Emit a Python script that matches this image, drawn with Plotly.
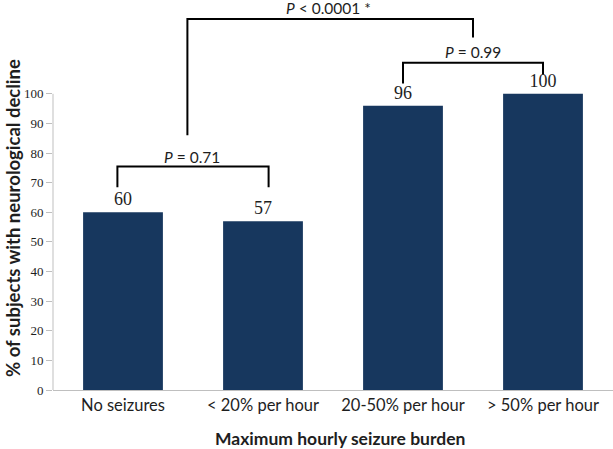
import plotly.graph_objects as go

categories = ["No seizures", "< 20% per hour", "20-50% per hour", "> 50% per hour"]
values = [60, 57, 96, 100]
labels = ["60", "57", "96", "100"]

# comparison brackets: (x left, x right, y top, y left end, y right end, text, text x, text y)
brackets = [
    (-0.04, 1.04, 75.5, 68.5, 68.5, "<i>P</i> = 0.71", 0.49, 78.8),
    (2.0, 3.0, 110.5, 103.5, 106.5, "<i>P</i> = 0.99", 2.5, 114.2),
    (0.46, 2.5, 125.3, 86.0, 119.0, "<i>P</i> < 0.0001 *", 1.47, 129.0),
]

sans = "Lato, 'Open Sans', sans-serif"
serif = "'Liberation Serif', 'DejaVu Serif', serif"
ink = "#1E1E1E"

fig = go.Figure(go.Bar(
    x=list(range(len(categories))),
    y=values,
    text=labels,
    textposition="outside",
    textfont=dict(family=serif, size=18, color=ink),
    marker=dict(color="#17375E", line=dict(width=0)),
    cliponaxis=False,
))

shapes = []
# y axis line only up to 100
shapes.append(dict(type="line", xref="paper", yref="y", x0=0, x1=0, y0=0, y1=100,
                   line=dict(color="#BFBFBF", width=1)))
for xl, xr, yt, yl, yr, txt, tx, ty in brackets:
    shapes.append(dict(type="path", xref="x", yref="y",
                       path=f"M {xl},{yl} L {xl},{yt} L {xr},{yt} L {xr},{yr}",
                       line=dict(color="black", width=2)))
    fig.add_annotation(x=tx, y=ty, xref="x", yref="y", text=txt, showarrow=False,
                       font=dict(family=sans, size=15.5, color=ink), yanchor="middle")

# axis titles as annotations so they sit where the reference has them
fig.add_annotation(x=-40 / 560, y=(449 - 218 - 59) / 385, xref="paper", yref="paper",
                   xanchor="center", yanchor="middle",
                   text="<b>% of subjects with neurological decline</b>", textangle=-90,
                   showarrow=False, font=dict(family=sans, size=18.5, color=ink))
fig.add_annotation(x=(340 - 53) / 560, y=-(438 - 390) / 385, xref="paper", yref="paper",
                   xanchor="center", yanchor="middle",
                   text="<b>Maximum hourly seizure burden</b>",
                   showarrow=False, font=dict(family=sans, size=17.5, color=ink))

fig.update_layout(
    width=613, height=449,
    margin=dict(l=53, r=0, t=5, b=59),
    paper_bgcolor="white", plot_bgcolor="white",
    showlegend=False,
    bargap=0.43,
    shapes=shapes,
    xaxis=dict(
        tickmode="array", tickvals=list(range(len(categories))), ticktext=categories,
        range=[-0.5, 3.5], showline=True, linecolor="#BFBFBF", linewidth=1,
        ticks="", showgrid=False, zeroline=False, automargin=False,
        tickfont=dict(family=sans, size=16.5, color=ink),
    ),
    yaxis=dict(
        range=[0, 130], tickmode="array", tickvals=list(range(0, 101, 10)),
        ticks="outside", ticklen=6, tickcolor="#BFBFBF", showline=False,
        showgrid=False, zeroline=False, automargin=False,
        tickfont=dict(family=serif, size=13, color=ink),
    ),
)

# page body has a default 8px margin; drop it so the figure fills the window
fig.write_html("out.html", config={"displayModeBar": False},
               post_script="document.body.style.margin='0';")
